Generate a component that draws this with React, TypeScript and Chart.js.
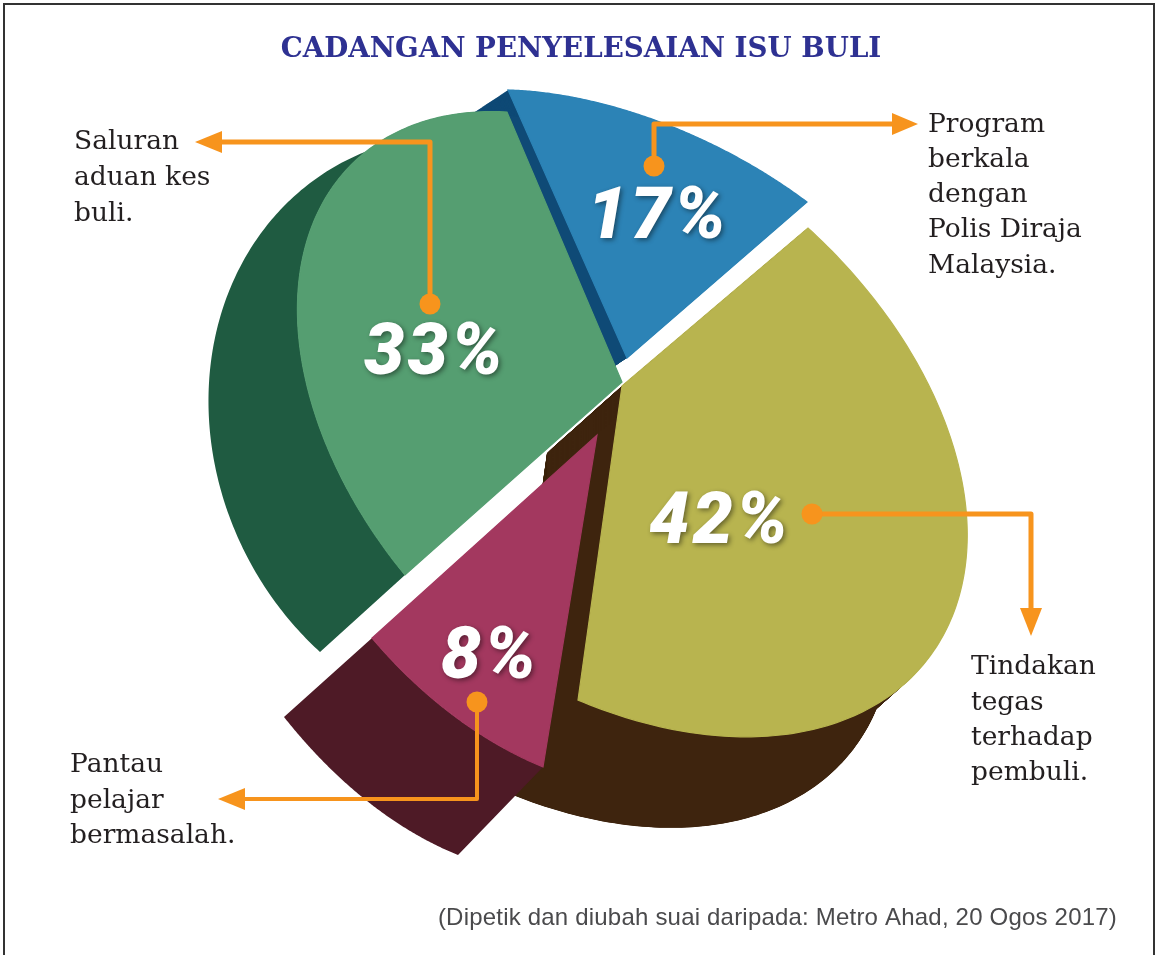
import React, { useEffect, useRef } from "react";
import { Chart, registerables } from "chart.js";

Chart.register(...registerables);

// ---- data (clockwise from the top of the pie) ----
const categories = [
  "Program berkala dengan Polis Diraja Malaysia.",
  "Tindakan tegas terhadap pembuli.",
  "Pantau pelajar bermasalah.",
  "Saluran aduan kes buli.",
];
const shareValues = [17, 42, 8, 33];
const calloutLines = [
  ["Program", "berkala", "dengan", "Polis Diraja", "Malaysia."],
  ["Tindakan", "tegas", "terhadap", "pembuli."],
  ["Pantau", "pelajar", "bermasalah."],
  ["Saluran", "aduan kes", "buli."],
];
const titleText = "CADANGAN PENYELESAIAN ISU BULI";
const sourceText = "(Dipetik dan diubah suai daripada: Metro Ahad, 20 Ogos 2017)";

// ---- styling ----
const faceColors = ["#2c83b6", "#b8b44f", "#a3385f", "#559e71"];
const wallColors = ["#0f4a76", "#3e240e", "#4e1a26", "#1f5b41"];
const ORANGE = "#f7941d";

// ---- layout: how each slice of the flat pie is tilted on the page ----
type Pt = [number, number];
type Rim = [Pt, Pt, Pt]; // where the slice's start, middle and end angle land
const sliceFrames: { apex: Pt; rim: Rim; sweep?: Pt[]; outer?: Rim }[] = [
  { apex: [627, 358], rim: [[508, 90], [660, 122], [807, 202]], sweep: [[-35, 23]] },
  { apex: [622, 386], rim: [[808, 228], [947, 628], [578, 700]], sweep: [[-75, 67], [-75, 91]] },
  { apex: [597, 435], rim: [[543, 767], [453, 715], [372, 638]], outer: [[458, 855], [367, 801], [284, 717]] },
  { apex: [622, 382], rim: [[405, 575], [303, 256], [507, 112]], outer: [[320, 652], [210, 370], [370, 150]] },
];
const drawOrder = [0, 3, 1, 2];
const labelPlaces: Pt[] = [[658, 220], [720, 525], [490, 660], [435, 356]];
const textPlaces: { x: number; y: number[] }[] = [
  { x: 928, y: [125, 160, 195, 230, 266] },
  { x: 971, y: [667, 703, 738, 773] },
  { x: 70, y: [765, 801, 836] },
  { x: 74, y: [142, 178, 214] },
];
const leaders: { path: Pt[]; tip: Pt; width: number }[] = [
  { path: [[654, 166], [654, 124], [892, 124]], tip: [918, 124], width: 5 },
  { path: [[812, 514], [1031, 514], [1031, 608]], tip: [1031, 636], width: 5 },
  { path: [[477, 702], [477, 799], [245, 799]], tip: [218, 799], width: 4 },
  { path: [[430, 304], [430, 142], [222, 142]], tip: [195, 142], width: 5 },
];

// Points along a slice's rim, taken from the arc element's own angles.
function rimPoints(el: any, rim: Rim, N = 160): Pt[] {
  const { startAngle, endAngle } = el.getProps(["startAngle", "endAngle"], true);
  const midAngle = (startAngle + endAngle) / 2;
  const e = (t: number): Pt => [Math.cos(t), Math.sin(t)];
  const [e1, em, e2] = [e(startAngle), e(midAngle), e(endAngle)];
  const [p1, pm, p2] = rim;
  const ux = e1[0] - em[0], uy = e1[1] - em[1];
  const vx = e2[0] - em[0], vy = e2[1] - em[1];
  const det = ux * vy - vx * uy;
  const ax = p1[0] - pm[0], ay = p1[1] - pm[1];
  const bx = p2[0] - pm[0], by = p2[1] - pm[1];
  const m00 = (ax * vy - bx * uy) / det;
  const m01 = (bx * ux - ax * vx) / det;
  const m10 = (ay * vy - by * uy) / det;
  const m11 = (by * ux - ay * vx) / det;
  const cx = pm[0] - (m00 * em[0] + m01 * em[1]);
  const cy = pm[1] - (m10 * em[0] + m11 * em[1]);
  const out: Pt[] = [];
  for (let s = 0; s <= N; s++) {
    const q = e(startAngle + ((endAngle - startAngle) * s) / N);
    out.push([cx + m00 * q[0] + m01 * q[1], cy + m10 * q[0] + m11 * q[1]]);
  }
  return out;
}

function trace(ctx: CanvasRenderingContext2D, pts: Pt[], ox = 0, oy = 0) {
  ctx.beginPath();
  pts.forEach((p, k) => (k ? ctx.lineTo(p[0] + ox, p[1] + oy) : ctx.moveTo(p[0] + ox, p[1] + oy)));
  ctx.closePath();
}

const tiltedPie = {
  id: "tiltedPie",
  beforeDatasetsDraw(chart: any) {
    const ctx: CanvasRenderingContext2D = chart.ctx;
    const arcs = chart.getDatasetMeta(0).data;
    ctx.save();
    for (const i of drawOrder) {
      const el = arcs[i];
      const fr = sliceFrames[i];
      const rim = rimPoints(el, fr.rim);
      const face: Pt[] = [fr.apex, ...rim];
      ctx.fillStyle = wallColors[i];
      if (fr.sweep) {
        let from: Pt = [0, 0];
        for (const to of fr.sweep) {
          const STEPS = 90;
          for (let s = 1; s <= STEPS; s++) {
            trace(ctx, face, from[0] + ((to[0] - from[0]) * s) / STEPS, from[1] + ((to[1] - from[1]) * s) / STEPS);
            ctx.fill();
          }
          from = to;
        }
      }
      if (fr.outer) {
        const outer = rimPoints(el, fr.outer);
        trace(ctx, [...rim, ...outer.reverse()]);
        ctx.fill();
      }
      trace(ctx, face);
      ctx.fillStyle = el.options.backgroundColor;
      ctx.strokeStyle = el.options.backgroundColor;
      ctx.lineWidth = 1.2;
      ctx.lineJoin = "miter";
      ctx.fill();
      ctx.stroke();
    }
    ctx.restore();
    return false;
  },
};

const annotations = {
  id: "annotations",
  afterDraw(chart: any) {
    const ctx: CanvasRenderingContext2D = chart.ctx;
    ctx.save();
    // frame
    ctx.strokeStyle = "#333333";
    ctx.lineWidth = 2;
    ctx.strokeRect(4, 4, 1150, 960);

    // percentages
    ctx.textAlign = "center";
    ctx.textBaseline = "middle";
    shareValues.forEach((v, i) => {
      ctx.save();
      ctx.font = "italic 900 72px Roboto";
      (ctx as any).letterSpacing = "3px";
      ctx.fillStyle = "#ffffff";
      ctx.shadowColor = "rgba(0,0,0,0.45)";
      ctx.shadowBlur = 5;
      ctx.shadowOffsetX = 2;
      ctx.shadowOffsetY = 2;
      ctx.fillText(`${v}%`, labelPlaces[i][0], labelPlaces[i][1]);
      ctx.restore();
    });

    // leaders
    ctx.strokeStyle = ORANGE;
    ctx.fillStyle = ORANGE;
    ctx.lineJoin = "round";
    leaders.forEach((l) => {
      ctx.lineWidth = l.width;
      ctx.beginPath();
      l.path.forEach((p, k) => (k ? ctx.lineTo(p[0], p[1]) : ctx.moveTo(p[0], p[1])));
      ctx.stroke();
      ctx.beginPath();
      ctx.arc(l.path[0][0], l.path[0][1], 10.5, 0, Math.PI * 2);
      ctx.fill();
      const base = l.path[l.path.length - 1];
      const dx = Math.sign(l.tip[0] - base[0]);
      const dy = Math.sign(l.tip[1] - base[1]);
      ctx.beginPath();
      ctx.moveTo(l.tip[0], l.tip[1]);
      ctx.lineTo(base[0] - dy * 11, base[1] - dx * 11);
      ctx.lineTo(base[0] + dy * 11, base[1] + dx * 11);
      ctx.closePath();
      ctx.fill();
    });

    // callouts
    ctx.textAlign = "left";
    ctx.fillStyle = "#231f20";
    ctx.font = '26.5px "DejaVu Serif"';
    calloutLines.forEach((lines, i) => {
      lines.forEach((line, k) => ctx.fillText(line, textPlaces[i].x, textPlaces[i].y[k]));
    });

    // source
    ctx.textAlign = "right";
    ctx.fillStyle = "#4a4a4c";
    ctx.font = '24px "Liberation Sans"';
    (ctx as any).letterSpacing = "0.2px";
    ctx.fillText(sourceText, 1117, 918);
    ctx.restore();
  },
};

export default function App() {
  const ref = useRef<HTMLCanvasElement>(null);
  useEffect(() => {
    const chart = new Chart(ref.current!, {
      type: "pie",
      data: {
        labels: categories,
        datasets: [{ data: shareValues, backgroundColor: faceColors, borderWidth: 0 }],
      },
      options: {
        animation: false,
        responsive: false,
        layout: { padding: { left: 7, top: 33 } },
        plugins: {
          legend: { display: false },
          tooltip: { enabled: false },
          title: {
            display: true,
            text: titleText,
            color: "#2e3192",
            font: { family: '"DejaVu Serif"', size: 27.7, weight: "bold" },
            padding: { top: 0, bottom: 10 },
          },
        },
      },
      plugins: [tiltedPie, annotations],
    } as any);
    return () => chart.destroy();
  }, []);
  return (
    <canvas
      ref={ref}
      width={1155}
      height={955}
      style={{ position: "absolute", left: 0, top: 0, display: "block", width: 1155, height: 955, background: "#fff" }}
    />
  );
}
